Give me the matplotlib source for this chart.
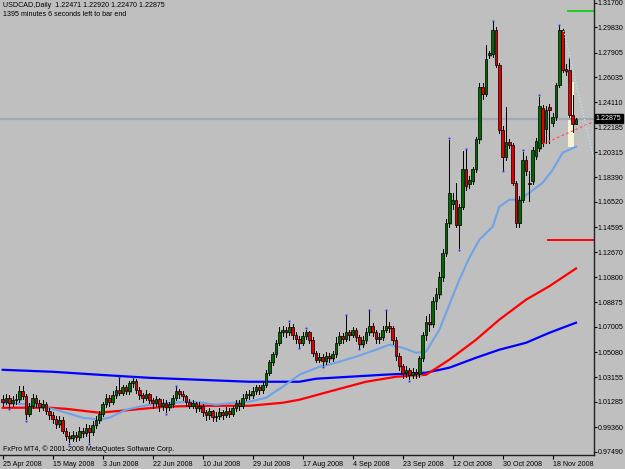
import matplotlib
matplotlib.use("Agg")
import matplotlib.pyplot as plt
from matplotlib.patches import Rectangle

plt.rcParams['font.family'] = ['Liberation Sans', 'DejaVu Sans']

# daily bars USDCAD
opens = [
    1.015, 1.013, 1.016, 1.012, 1.014, 1.015, 1.021, 1.017, 1.004, 1.010,
    1.016, 1.012, 1.009, 1.011, 1.006, 1.003, 1.000, 0.996, 0.999, 0.991,
    0.987, 0.985, 0.988, 0.986, 0.991, 0.989, 0.993, 0.990, 0.995, 0.999,
    1.004, 1.011, 1.016, 1.013, 1.018, 1.022, 1.020, 1.024, 1.021, 1.027,
    1.029, 1.022, 1.018, 1.016, 1.019, 1.014, 1.012, 1.015, 1.010, 1.012,
    1.009, 1.011, 1.016, 1.021, 1.019, 1.017, 1.013, 1.010, 1.012, 1.008,
    1.010, 1.005, 1.003, 1.006, 1.001, 1.002, 1.005, 1.003, 1.006, 1.004,
    1.008, 1.012, 1.010, 1.016, 1.019, 1.018, 1.021, 1.024, 1.022, 1.026,
    1.035, 1.043, 1.049, 1.058, 1.066, 1.068, 1.066, 1.070, 1.064, 1.061,
    1.058, 1.063, 1.066, 1.060, 1.050, 1.045, 1.047, 1.044, 1.048, 1.046,
    1.049, 1.058, 1.063, 1.061, 1.066, 1.064, 1.068, 1.062, 1.057, 1.060,
    1.066, 1.071, 1.066, 1.061, 1.062, 1.068, 1.071, 1.069, 1.060, 1.048,
    1.040, 1.035, 1.037, 1.033, 1.036, 1.034, 1.046, 1.064, 1.074, 1.072,
    1.090, 1.095, 1.108, 1.126, 1.149, 1.164, 1.167, 1.148, 1.1617, 1.1905,
    1.179, 1.181, 1.190, 1.2128, 1.253, 1.2475, 1.277, 1.278, 1.2964, 1.2698,
    1.2202, 1.1996, 1.2111, 1.2088, 1.1799, 1.1494, 1.1669, 1.1974, 1.180, 1.181,
    1.200, 1.2063, 1.237, 1.221, 1.2378, 1.2256, 1.2302, 1.2545, 1.2964, 1.2665,
    1.2659, 1.2317, 1.22471,
]
highs = [
    1.018, 1.019, 1.018, 1.017, 1.019, 1.025, 1.025, 1.019, 1.012, 1.019,
    1.018, 1.014, 1.014, 1.013, 1.008, 1.005, 1.002, 1.002, 1.001, 0.993,
    0.990, 0.991, 0.990, 0.994, 0.993, 0.996, 0.995, 0.998, 1.002, 1.006,
    1.013, 1.019, 1.018, 1.021, 1.025, 1.031, 1.026, 1.026, 1.029, 1.031,
    1.030, 1.024, 1.020, 1.022, 1.020, 1.016, 1.017, 1.016, 1.015, 1.014,
    1.013, 1.018, 1.024, 1.023, 1.021, 1.018, 1.015, 1.014, 1.013, 1.013,
    1.011, 1.007, 1.008, 1.007, 1.005, 1.008, 1.007, 1.009, 1.008, 1.010,
    1.014, 1.014, 1.019, 1.021, 1.022, 1.024, 1.026, 1.026, 1.028, 1.037,
    1.045, 1.051, 1.060, 1.070, 1.071, 1.070, 1.073, 1.072, 1.066, 1.063,
    1.066, 1.068, 1.067, 1.062, 1.052, 1.050, 1.049, 1.051, 1.050, 1.052,
    1.062, 1.066, 1.065, 1.078, 1.068, 1.070, 1.069, 1.064, 1.063, 1.069,
    1.082, 1.073, 1.068, 1.065, 1.071, 1.082, 1.074, 1.071, 1.062, 1.050,
    1.042, 1.040, 1.039, 1.039, 1.038, 1.048, 1.066, 1.078, 1.080, 1.093,
    1.100, 1.112, 1.129, 1.152, 1.2126, 1.172, 1.180, 1.164, 1.204, 1.2045,
    1.185, 1.192, 1.215, 1.256, 1.256, 1.285, 1.280, 1.302, 1.2985, 1.271,
    1.223, 1.2378, 1.213, 1.210, 1.181, 1.170, 1.2035, 1.200, 1.189, 1.207,
    1.214, 1.2451, 1.239, 1.238, 1.240, 1.233, 1.256, 1.299, 1.298, 1.270,
    1.2751, 1.2470, 1.22920,
]
lows = [
    1.010, 1.011, 1.009, 1.010, 1.011, 1.013, 1.015, 0.9995, 1.002, 1.008,
    1.009, 1.006, 1.007, 1.004, 1.000, 0.997, 0.993, 0.994, 0.989, 0.984,
    0.982, 0.983, 0.983, 0.984, 0.986, 0.987, 0.982, 0.988, 0.993, 0.997,
    1.002, 1.009, 1.010, 1.011, 1.016, 1.018, 1.018, 1.019, 1.019, 1.024,
    1.020, 1.015, 1.013, 1.014, 1.012, 1.008, 1.010, 1.006, 1.007, 1.005,
    1.007, 1.009, 1.014, 1.016, 1.014, 1.010, 1.008, 1.008, 1.005, 1.006,
    1.002, 0.999, 1.000, 0.998, 0.998, 1.000, 1.000, 1.001, 1.001, 1.002,
    1.006, 1.007, 1.008, 1.014, 1.015, 1.016, 1.019, 1.019, 1.020, 1.024,
    1.033, 1.041, 1.047, 1.056, 1.063, 1.062, 1.064, 1.061, 1.058, 1.055,
    1.056, 1.061, 1.058, 1.048, 1.043, 1.043, 1.041, 1.042, 1.043, 1.044,
    1.047, 1.056, 1.058, 1.059, 1.060, 1.062, 1.059, 1.054, 1.055, 1.058,
    1.064, 1.063, 1.058, 1.058, 1.060, 1.066, 1.066, 1.057, 1.045, 1.037,
    1.031, 1.032, 1.030, 1.031, 1.031, 1.032, 1.044, 1.060, 1.067, 1.070,
    1.084, 1.092, 1.105, 1.124, 1.146, 1.160, 1.146, 1.130, 1.160, 1.174,
    1.176, 1.179, 1.188, 1.210, 1.244, 1.246, 1.275, 1.276, 1.268, 1.218,
    1.1897, 1.197, 1.206, 1.178, 1.146, 1.146, 1.165, 1.186, 1.166, 1.179,
    1.198, 1.204, 1.208, 1.210, 1.2103, 1.223, 1.228, 1.253, 1.264, 1.262,
    1.230, 1.2188, 1.22470,
]
closes = [
    1.013, 1.016, 1.012, 1.014, 1.015, 1.021, 1.017, 1.004, 1.010, 1.016,
    1.012, 1.009, 1.011, 1.006, 1.003, 1.000, 0.996, 0.999, 0.991, 0.987,
    0.985, 0.988, 0.986, 0.991, 0.989, 0.993, 0.990, 0.995, 0.999, 1.004,
    1.011, 1.016, 1.013, 1.018, 1.022, 1.020, 1.024, 1.021, 1.027, 1.029,
    1.022, 1.018, 1.016, 1.019, 1.014, 1.012, 1.015, 1.010, 1.012, 1.009,
    1.011, 1.016, 1.021, 1.019, 1.017, 1.013, 1.010, 1.012, 1.008, 1.010,
    1.005, 1.003, 1.006, 1.001, 1.002, 1.005, 1.003, 1.006, 1.004, 1.008,
    1.012, 1.010, 1.016, 1.019, 1.018, 1.021, 1.024, 1.022, 1.026, 1.035,
    1.043, 1.049, 1.058, 1.066, 1.068, 1.066, 1.070, 1.064, 1.061, 1.058,
    1.063, 1.066, 1.060, 1.050, 1.045, 1.047, 1.044, 1.048, 1.046, 1.049,
    1.058, 1.063, 1.061, 1.066, 1.064, 1.068, 1.062, 1.057, 1.060, 1.066,
    1.071, 1.066, 1.061, 1.062, 1.068, 1.071, 1.069, 1.060, 1.048, 1.040,
    1.035, 1.037, 1.033, 1.036, 1.034, 1.046, 1.064, 1.074, 1.072, 1.090,
    1.095, 1.108, 1.126, 1.149, 1.172, 1.167, 1.148, 1.1617, 1.1905, 1.177,
    1.182, 1.190, 1.2128, 1.253, 1.2475, 1.2738, 1.279, 1.2964, 1.2698, 1.2202,
    1.1996, 1.2111, 1.2088, 1.1799, 1.1494, 1.1669, 1.1974, 1.189, 1.179, 1.205,
    1.2118, 1.238, 1.2103, 1.2355, 1.2355, 1.2302, 1.2545, 1.2964, 1.2659, 1.2650,
    1.2317, 1.2247, 1.22875,
]

# moving averages, sampled every few bars (bar index, price)
ma_fast_x = [0, 9, 16, 24, 29, 32, 37, 41, 46, 51, 56, 60, 64, 69, 74, 79, 84, 89, 95, 100,
             106, 112, 116, 120, 124, 127, 131, 134, 137, 140, 143, 147, 149, 152, 155, 158,
             162, 165, 168, 172]
ma_fast = [1.0122, 1.0107, 1.0069, 1.0008, 0.9993, 1.0008, 1.0069, 1.0092, 1.0114, 1.0122,
           1.0130, 1.0122, 1.0107, 1.0122, 1.0130, 1.0160, 1.0244, 1.0335, 1.0396, 1.0427,
           1.0473, 1.0526, 1.0564, 1.0541, 1.0503, 1.0511, 1.0678, 1.0869, 1.1059, 1.1227,
           1.1364, 1.1463, 1.1616, 1.1669, 1.1669, 1.1722, 1.1798, 1.1897, 1.2027, 1.2073]
ma_mid_x = [0, 14, 19, 29, 39, 49, 59, 69, 74, 84, 89, 100, 109, 118, 127, 134, 142, 149,
            157, 164, 172]
ma_mid = [1.0084, 1.0084, 1.0076, 1.0046, 1.0069, 1.0092, 1.0099, 1.0099, 1.0099, 1.0122,
          1.0145, 1.0221, 1.0282, 1.0320, 1.0335, 1.0450, 1.0602, 1.0755, 1.0907, 1.1010,
          1.1145]
ma_slow_x = [0, 15, 29, 44, 59, 74, 89, 94, 104, 114, 127, 134, 142, 149, 157, 164, 172]
ma_slow = [1.0373, 1.0358, 1.0335, 1.0312, 1.0297, 1.0282, 1.0282, 1.0305, 1.0320, 1.0335,
           1.0351, 1.0389, 1.0465, 1.0526, 1.0579, 1.0655, 1.0732]

yticks = [1.31700, 1.29830, 1.27905, 1.26035, 1.24110, 1.22185, 1.20315, 1.18390, 1.16520,
          1.14595, 1.12670, 1.10800, 1.08875, 1.07005, 1.05080, 1.03155, 1.01285, 0.99360,
          0.97490]
date_labels = ["25 Apr 2008", "15 May 2008", "3 Jun 2008", "22 Jun 2008", "10 Jul 2008",
               "29 Jul 2008", "17 Aug 2008", "4 Sep 2008", "23 Sep 2008", "12 Oct 2008",
               "30 Oct 2008", "18 Nov 2008"]
date_pos = [0, 15, 30, 45, 60, 75, 90, 105, 120, 135, 150, 165]

bid = 1.22875
BG = "#bfbfbf"
FS = 5.1

fig = plt.figure(figsize=(6.25, 4.69), dpi=100)
fig.patch.set_facecolor(BG)
ax = fig.add_axes([0.0, 1 - 455 / 469, 594 / 625, 455 / 469])
ax.set_facecolor(BG)
ax.set_xlim(-0.81, 177.4)
ax.set_ylim(0.97239, 1.31906)

# objects on the chart
ax.add_patch(Rectangle((169.6, 1.2073), 1.8, 0.0495, facecolor="#f6f4d2", edgecolor="none", zorder=1))
ax.axhline(bid, color="#a3a8b5", lw=1.6, zorder=1)
ax.plot([169.6, 177.4], [1.3109, 1.3109], color="#22cc22", lw=1.4, zorder=2)
ax.plot([163.6, 177.4], [1.1364, 1.1364], color="red", lw=1.4, zorder=2)

ax.plot(ma_slow_x, ma_slow, color="#0000ff", lw=1.6, zorder=2)
ax.plot(ma_mid_x, ma_mid, color="#ff0000", lw=1.6, zorder=2)
ax.plot(ma_fast_x, ma_fast, color="#6fa3e6", lw=1.5, zorder=2)

# candles
for i in range(len(closes)):
    o, h, l, c = opens[i], highs[i], lows[i], closes[i]
    lo, hi = min(o, c), max(o, c)
    ax.add_patch(Rectangle((i + 0.2, lo - 0.0012), 0.5, hi - lo + 0.0004,
                           facecolor="#8e8e8e", edgecolor="none", zorder=3))
    ax.plot([i, i], [l, h], color="black", lw=0.7, zorder=4)
    fc = "#006a00" if c >= o else "#e00000"
    ax.add_patch(Rectangle((i - 0.38, lo), 0.76, max(hi - lo, 0.0004),
                           facecolor=fc, edgecolor="black", lw=0.5, zorder=5))

# fractal markers
for i in range(2, len(highs) - 2):
    if highs[i] > max(highs[i - 2], highs[i - 1], highs[i + 1], highs[i + 2]):
        ax.plot(i, highs[i] + 0.0012, "s", color="#2a2aff", ms=1.3, mew=0, zorder=6)
    if lows[i] < min(lows[i - 2], lows[i - 1], lows[i + 1], lows[i + 2]):
        ax.plot(i, lows[i] - 0.0012, "s", color="#2a2aff", ms=1.3, mew=0, zorder=6)

# trend lines
ax.plot([162.2, 177.4], [1.2095, 1.2265], color="#ff5050", lw=0.9, ls=(0, (2, 2)), zorder=6)
ax.plot([168.1, 177.4], [1.2980, 1.1974], color="#b8e8f2", lw=0.9, ls=(0, (1, 1.5)), zorder=6)

# axes
for s in ["left", "top"]:
    ax.spines[s].set_visible(False)
for s in ["right", "bottom"]:
    ax.spines[s].set_color("#202020")
    ax.spines[s].set_linewidth(1.0)
ax.yaxis.tick_right()
ax.set_yticks(yticks)
ax.set_yticklabels(["%.5f" % v for v in yticks])
ax.set_xticks(date_pos)
ax.set_xticklabels(date_labels)
for lbl in ax.get_xticklabels():
    lbl.set_ha("left")
ax.tick_params(axis="y", direction="out", length=2, width=0.8, pad=0.8, labelsize=FS, colors="black")
ax.tick_params(axis="x", direction="out", length=3, width=0.8, pad=1.5, labelsize=FS, colors="black")

ax.annotate("1.22875", xy=(1.0, bid), xycoords=("axes fraction", "data"),
            xytext=(1.4, 0), textcoords="offset points", va="center", ha="left",
            fontsize=FS, color="white",
            bbox=dict(boxstyle="square,pad=0.15", fc="black", ec="black"), zorder=10,
            annotation_clip=False)

fig.text(3 / 625, 1 - 2 / 469, "USDCAD,Daily  1.22471 1.22920 1.22470 1.22875",
         fontsize=FS, va="top", ha="left")
fig.text(3 / 625, 1 - 11.5 / 469, "1395 minutes 6 seconds left to bar end",
         fontsize=FS, va="top", ha="left")
fig.text(3 / 625, 1 - 445 / 469, "FxPro MT4, \u00a9 2001-2008 MetaQuotes Software Corp.",
         fontsize=FS, va="top", ha="left")

fig.savefig("out.png", dpi=100, facecolor=BG)
